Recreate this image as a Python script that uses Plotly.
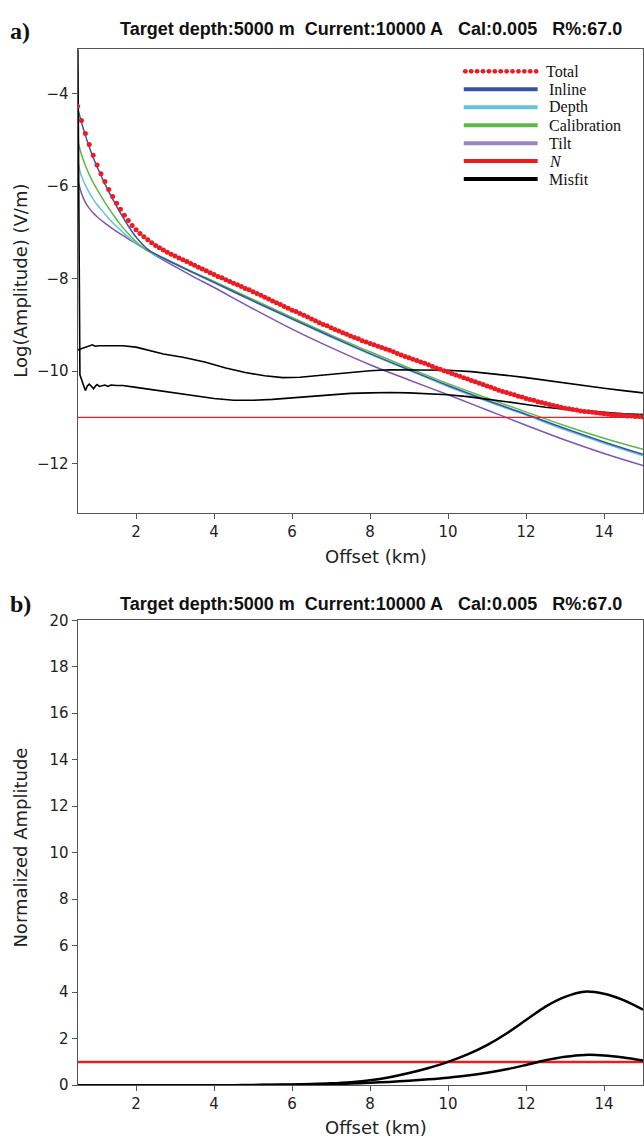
import numpy as np
import plotly.graph_objects as go

W, H = 644, 1147

# ---------------- data: panel a ----------------
total_offset = np.round(np.arange(0.5, 15.05, 0.1), 1)
total_vals = [
    -4.27, -4.58, -4.86, -5.10, -5.33, -5.54, -5.73, -5.90, -6.07, -6.22,
    -6.37, -6.50, -6.63, -6.74, -6.85, -6.94, -7.02, -7.09, -7.16, -7.22,
    -7.28, -7.33, -7.38, -7.43, -7.47, -7.51, -7.55, -7.59, -7.63, -7.67,
    -7.71, -7.75, -7.79, -7.83, -7.87, -7.91, -7.95, -7.98, -8.02, -8.06,
    -8.10, -8.13, -8.17, -8.21, -8.24, -8.28, -8.32, -8.36, -8.40, -8.44,
    -8.48, -8.52, -8.56, -8.60, -8.64, -8.68, -8.71, -8.75, -8.79, -8.83,
    -8.87, -8.91, -8.95, -8.99, -9.02, -9.06, -9.10, -9.13, -9.17, -9.20,
    -9.24, -9.27, -9.30, -9.34, -9.37, -9.40, -9.43, -9.46, -9.49, -9.52,
    -9.55, -9.58, -9.62, -9.65, -9.68, -9.71, -9.74, -9.77, -9.80, -9.83,
    -9.86, -9.90, -9.93, -9.96, -9.99, -10.02, -10.05, -10.08, -10.11, -10.14,
    -10.17, -10.20, -10.23, -10.26, -10.29, -10.32, -10.35, -10.38, -10.41, -10.44,
    -10.46, -10.49, -10.51, -10.54, -10.56, -10.59, -10.61, -10.63, -10.66, -10.68,
    -10.70, -10.72, -10.74, -10.76, -10.78, -10.80, -10.81, -10.83, -10.84, -10.86,
    -10.87, -10.88, -10.89, -10.90, -10.91, -10.92, -10.93, -10.94, -10.95, -10.95,
    -10.96, -10.97, -10.97, -10.98, -10.98, -10.99,
]

line_offset = [0.5, 0.6, 0.7, 0.8, 0.9, 1.0, 1.2, 1.4, 1.6, 1.8, 2.0, 2.25, 2.5,
               3.0, 3.5, 4.0, 5.0, 6.0, 7.0, 8.0, 9.0, 10.0, 11.0, 12.0, 13.0, 14.0, 15.0]
inline_vals = [-4.30, -4.62, -4.90, -5.15, -5.38, -5.58, -5.95, -6.28, -6.58, -6.86, -7.10,
               -7.33, -7.47, -7.68, -7.88, -8.08, -8.48, -8.87, -9.25, -9.62, -9.97,
               -10.31, -10.63, -10.93, -11.24, -11.53, -11.80]
depth_vals = [-5.45, -5.78, -5.98, -6.14, -6.28, -6.40, -6.60, -6.79, -6.95, -7.10, -7.23,
              -7.37, -7.49, -7.69, -7.89, -8.09, -8.49, -8.88, -9.26, -9.63, -9.98,
              -10.33, -10.65, -10.95, -11.27, -11.56, -11.83]
calib_vals = [-5.00, -5.32, -5.55, -5.75, -5.92, -6.07, -6.35, -6.60, -6.83, -7.03, -7.20,
              -7.37, -7.47, -7.67, -7.87, -8.06, -8.45, -8.84, -9.22, -9.58, -9.93,
              -10.27, -10.58, -10.88, -11.18, -11.45, -11.69]
tilt_vals = [-5.85, -6.15, -6.35, -6.48, -6.58, -6.66, -6.80, -6.92, -7.03, -7.14, -7.24,
             -7.37, -7.50, -7.74, -7.97, -8.19, -8.65, -9.09, -9.49, -9.86, -10.19,
             -10.51, -10.84, -11.17, -11.49, -11.78, -12.04]
noise_level = -11.0

misfit1_offset = [0.5, 0.56, 0.65, 0.75, 0.88, 0.95, 1.05, 1.3, 1.66, 2.0, 2.7, 3.2, 3.76,
                  4.3, 4.8, 5.3, 5.76, 6.2, 6.6, 7.0, 7.5, 8.0, 8.5, 9.0, 9.5, 10.0, 10.6,
                  11.0, 11.5, 12.0, 12.5, 13.0, 13.5, 14.0, 14.5, 15.0]
misfit1_vals = [-9.54, -9.52, -9.50, -9.46, -9.43, -9.46, -9.45, -9.45, -9.45, -9.48, -9.63,
                -9.70, -9.80, -9.93, -10.03, -10.10, -10.14, -10.13, -10.10, -10.06, -10.02,
                -9.99, -9.97, -9.97, -9.97, -9.98, -10.01, -10.04, -10.09, -10.14, -10.20,
                -10.26, -10.32, -10.37, -10.42, -10.47]
misfit2_offset = [0.5, 0.56, 0.63, 0.70, 0.75, 0.80, 0.86, 0.91, 0.96, 1.0, 1.06, 1.12, 1.2,
                  1.28, 1.35, 1.5, 1.66, 2.0, 2.6, 3.0, 3.5, 4.0, 4.5, 5.0, 5.5, 6.0, 6.5,
                  7.0, 7.5, 8.0, 8.5, 9.0, 9.5, 10.0, 10.5, 11.0, 11.5, 12.0, 12.5, 13.0,
                  13.5, 14.0, 14.5, 15.0]
misfit2_vals = [-2.0, -10.08, -10.25, -10.42, -10.32, -10.28, -10.33, -10.38, -10.32, -10.29,
                -10.33, -10.31, -10.30, -10.33, -10.30, -10.31, -10.31, -10.35, -10.42, -10.47,
                -10.54, -10.59, -10.63, -10.63, -10.61, -10.58, -10.54, -10.51, -10.48, -10.47,
                -10.46, -10.47, -10.49, -10.51, -10.55, -10.60, -10.66, -10.72, -10.78, -10.82,
                -10.86, -10.89, -10.92, -10.94]

# ---------------- data: panel b ----------------
norm_offset = [0.5, 2.0, 3.0, 4.0, 4.5, 5.0, 5.5, 6.0, 6.5, 7.0, 7.5, 8.0, 8.5, 9.0, 9.5,
               10.0, 10.5, 11.0, 11.5, 12.0, 12.5, 13.0, 13.5, 14.0, 14.5, 15.0]
norm_upper = [0, 0, 0, 0, 0, 0.01, 0.02, 0.03, 0.05, 0.08, 0.13, 0.21, 0.34, 0.52, 0.74,
              1.00, 1.32, 1.72, 2.22, 2.80, 3.38, 3.80, 4.02, 3.93, 3.66, 3.25]
norm_lower = [0, 0, 0, 0, 0, 0, 0.01, 0.01, 0.02, 0.04, 0.07, 0.10, 0.14, 0.19, 0.25,
              0.32, 0.41, 0.53, 0.68, 0.87, 1.07, 1.22, 1.30, 1.28, 1.19, 1.06]
norm_noise = 1.0

x_ticks = [2, 4, 6, 8, 10, 12, 14]
ya_ticks = [-4, -6, -8, -10, -12]
yb_ticks = list(range(0, 21, 2))

legend_labels = ["Total", "Inline", "Depth", "Calibration", "Tilt", "<i>N</i>", "Misfit"]
title_text = "Target depth:5000 m\u00a0\u00a0Current:10000 A\u00a0\u00a0\u00a0Cal:0.005\u00a0\u00a0\u00a0R%:67.0"

# ---------------- styles ----------------
C_RED = "#ec1c24"
C_BLUE = "#3a52a3"
C_CYAN = "#63c6d8"
C_GREEN = "#5cb848"
C_PURPLE = "#7d55b3"
C_PURPLE_LEG = "#9b86c3"

def px(x):
    return min(max(x / W, 0.0), 1.0)

def py(y):
    return min(max(1 - y / H, 0.0), 1.0)

plot_l, plot_r = 77.7, 644.0
a_top, a_bot = 41.0, 511.7
b_top, b_bot = 621.0, 1093.3

fig = go.Figure()

# panel a
fig.add_trace(go.Scatter(x=line_offset, y=tilt_vals, mode="lines", line=dict(color=C_PURPLE, width=1.5, shape="spline"), xaxis="x", yaxis="y", showlegend=False))
fig.add_trace(go.Scatter(x=line_offset, y=depth_vals, mode="lines", line=dict(color=C_CYAN, width=1.5, shape="spline"), xaxis="x", yaxis="y", showlegend=False))
fig.add_trace(go.Scatter(x=line_offset, y=calib_vals, mode="lines", line=dict(color=C_GREEN, width=1.5, shape="spline"), xaxis="x", yaxis="y", showlegend=False))
fig.add_trace(go.Scatter(x=line_offset, y=inline_vals, mode="lines", line=dict(color=C_BLUE, width=1.5, shape="spline"), xaxis="x", yaxis="y", showlegend=False))
fig.add_trace(go.Scatter(x=[0.5, 15], y=[noise_level, noise_level], mode="lines", line=dict(color=C_RED, width=1.2), xaxis="x", yaxis="y", showlegend=False))
fig.add_trace(go.Scatter(x=misfit1_offset, y=misfit1_vals, mode="lines", line=dict(color="black", width=1.6), xaxis="x", yaxis="y", showlegend=False))
fig.add_trace(go.Scatter(x=misfit2_offset, y=misfit2_vals, mode="lines", line=dict(color="black", width=1.6), xaxis="x", yaxis="y", showlegend=False))
fig.add_trace(go.Scatter(x=total_offset, y=total_vals, mode="markers", marker=dict(color=C_RED, size=5, line=dict(width=0)), xaxis="x", yaxis="y", showlegend=False, cliponaxis=True))

# panel b
fig.add_trace(go.Scatter(x=[0.5, 15], y=[norm_noise, norm_noise], mode="lines", line=dict(color=C_RED, width=2.5), xaxis="x2", yaxis="y2", showlegend=False))
fig.add_trace(go.Scatter(x=norm_offset, y=norm_upper, mode="lines", line=dict(color="black", width=2.5, shape="spline", smoothing=0.8), xaxis="x2", yaxis="y2", showlegend=False))
fig.add_trace(go.Scatter(x=norm_offset, y=norm_lower, mode="lines", line=dict(color="black", width=2.5, shape="spline", smoothing=0.8), xaxis="x2", yaxis="y2", showlegend=False))

tickfont = dict(family="DejaVu Sans", size=15, color="#222222")
axcommon = dict(showgrid=False, zeroline=False, showline=True, linecolor="#555555", linewidth=1,
                mirror=True, ticks="outside", ticklen=5, tickwidth=1, tickcolor="#555555",
                tickfont=tickfont)

fig.update_layout(
    width=W, height=H,
    margin=dict(l=0, r=0, t=0, b=0),
    paper_bgcolor="white", plot_bgcolor="white",
    showlegend=False,
    xaxis=dict(domain=[px(plot_l), px(plot_r)], range=[0.5, 15], tickvals=x_ticks, anchor="y", **axcommon),
    yaxis=dict(domain=[py(a_bot), py(a_top)], range=[-13.06, -3.04], tickvals=ya_ticks, anchor="x", **axcommon),
    xaxis2=dict(domain=[px(plot_l), px(plot_r)], range=[0.5, 15], tickvals=x_ticks, anchor="y2", **axcommon),
    yaxis2=dict(domain=[py(b_bot), py(b_top)], range=[0, 20], tickvals=yb_ticks, anchor="x2", **axcommon),
)

ann = []
label_font = dict(family="DejaVu Sans", size=18, color="#222222")
title_font = dict(family="Liberation Sans", size=18, color="#111111")
for yc in (20, 604):
    ann.append(dict(x=px(372), y=py(yc), xref="paper", yref="paper", text="<b>" + title_text + "</b>",
                    showarrow=False, font=title_font, xanchor="center", yanchor="middle"))
ann.append(dict(x=px(8), y=py(22), xref="paper", yref="paper", text="<b>a)</b>", showarrow=False,
                font=dict(family="Liberation Serif", size=24, color="#111111"), xanchor="left", yanchor="middle"))
ann.append(dict(x=px(8), y=py(604), xref="paper", yref="paper", text="<b>b)</b>", showarrow=False,
                font=dict(family="Liberation Serif", size=24, color="#111111"), xanchor="left", yanchor="middle"))
ann.append(dict(x=px(377), y=py(556), xref="paper", yref="paper", text="Offset (km)", showarrow=False,
                font=label_font, xanchor="center", yanchor="middle"))
ann.append(dict(x=px(377), y=py(1136), xref="paper", yref="paper", text="Offset (km)", showarrow=False,
                font=label_font, xanchor="center", yanchor="middle"))
ann.append(dict(x=px(21), y=py(276), xref="paper", yref="paper", text="Log(Amplitude) (V/m)", showarrow=False,
                font=label_font, textangle=-90, xanchor="center", yanchor="middle"))
ann.append(dict(x=px(21), y=py(852), xref="paper", yref="paper", text="Normalized Amplitude", showarrow=False,
                font=label_font, textangle=-90, xanchor="center", yanchor="middle"))

shapes = []
leg_x0, leg_x1 = 464.5, 538.5
leg_y0, leg_dy = 63.3, 18.25
leg_colors = [C_RED, C_BLUE, C_CYAN, C_GREEN, C_PURPLE_LEG, C_RED, "black"]
for i, (lab, col) in enumerate(zip(legend_labels, leg_colors)):
    yy = leg_y0 + i * leg_dy
    if i == 0:
        n = 13
        for k in range(n):
            cx = leg_x0 + 1.5 + k * (leg_x1 - leg_x0 - 3) / (n - 1)
            r = 2.4
            shapes.append(dict(type="circle", xref="paper", yref="paper",
                               x0=px(cx - r), x1=px(cx + r), y0=py(yy + r), y1=py(yy - r),
                               fillcolor=col, line=dict(width=0)))
    else:
        shapes.append(dict(type="line", xref="paper", yref="paper", x0=px(leg_x0), x1=px(leg_x1),
                           y0=py(yy), y1=py(yy), line=dict(color=col, width=4)))
    ann.append(dict(x=px(545 if i == 0 else 548), y=py(yy), xref="paper", yref="paper", text=lab,
                    showarrow=False, font=dict(family="Liberation Serif", size=16, color="#111111"),
                    xanchor="left", yanchor="middle"))

fig.update_layout(annotations=ann, shapes=shapes)
fig.write_html("out.html")
